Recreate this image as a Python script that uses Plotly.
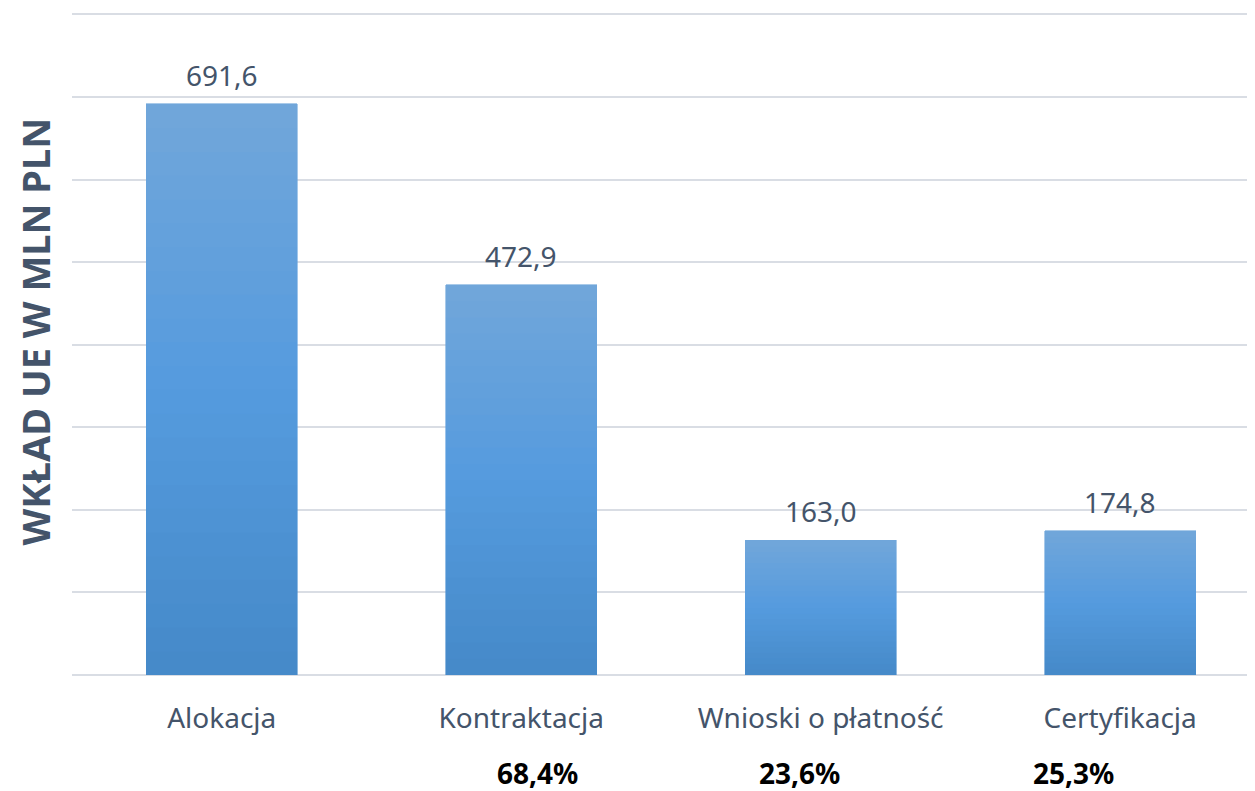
import plotly.graph_objects as go

categories = ["Alokacja", "Kontraktacja", "Wnioski o płatność", "Certyfikacja"]
values = [691.6, 472.9, 163.0, 174.8]
value_labels = ["691,6", "472,9", "163,0", "174,8"]
pct_categories = ["Kontraktacja", "Wnioski o płatność", "Certyfikacja"]
pct_labels = ["68,4%", "23,6%", "25,3%"]
pct_shift = [16, -21, -47]

FONT = "Noto Sans"
TXT = "#44546a"

top_rgb = (0x71, 0xa6, 0xda)
mid_rgb = (0x55, 0x9b, 0xde)
bot_rgb = (0x45, 0x89, 0xc8)

def lerp(a, b, t):
    return tuple(round(a[i] + (b[i] - a[i]) * t) for i in range(3))

N = 24
fig = go.Figure()
for k in range(N):
    t = (k + 0.5) / N  # 0 bottom -> 1 top
    if t < 0.5:
        c = lerp(bot_rgb, mid_rgb, t / 0.5)
    else:
        c = lerp(mid_rgb, top_rgb, (t - 0.5) / 0.5)
    fig.add_trace(go.Bar(
        x=categories, y=[v / N for v in values],
        marker=dict(color="rgb(%d,%d,%d)" % c, line=dict(width=0.6, color="rgb(%d,%d,%d)" % c)),
        hoverinfo="skip", showlegend=False,
    ))

for cat, v, lab in zip(categories, values, value_labels):
    fig.add_annotation(x=cat, y=v, text=lab, showarrow=False, yanchor="middle", yshift=29,
                       font=dict(family=FONT, size=28, color=TXT))

for cat, lab, sh in zip(pct_categories, pct_labels, pct_shift):
    fig.add_annotation(x=cat, y=0, yref="paper", text="<b>%s</b>" % lab, showarrow=False,
                       xshift=sh, yshift=-98, yanchor="middle", borderpad=0,
                       font=dict(family=FONT, size=28, color="#000000"))

fig.add_annotation(x=0, xref="paper", xanchor="center", xshift=-38, y=0.5, yref="paper",
                   yshift=12, borderpad=0,
                   text="<b>WKŁAD UE W MLN PLN</b>", textangle=-90, showarrow=False,
                   font=dict(family=FONT, size=38, color=TXT))

fig.update_layout(
    width=1255, height=791, barmode="stack", bargap=0.496,
    margin=dict(l=64, r=0, t=4, b=124),
    plot_bgcolor="white", paper_bgcolor="white",
    font=dict(family=FONT, color=TXT),
    xaxis=dict(range=[-0.5, 3.477], showgrid=False, ticks="", showline=False,
               tickfont=dict(family=FONT, size=28, color=TXT), ticklabelstandoff=24),
    yaxis=dict(range=[0, 803], tickvals=[100, 200, 300, 400, 500, 600, 700, 800],
               showgrid=True, gridcolor="#d9dde4", gridwidth=1.5,
               showticklabels=False, zeroline=True, zerolinecolor="#d9dde4", zerolinewidth=1.5),
)

fig.write_html("out.html")
